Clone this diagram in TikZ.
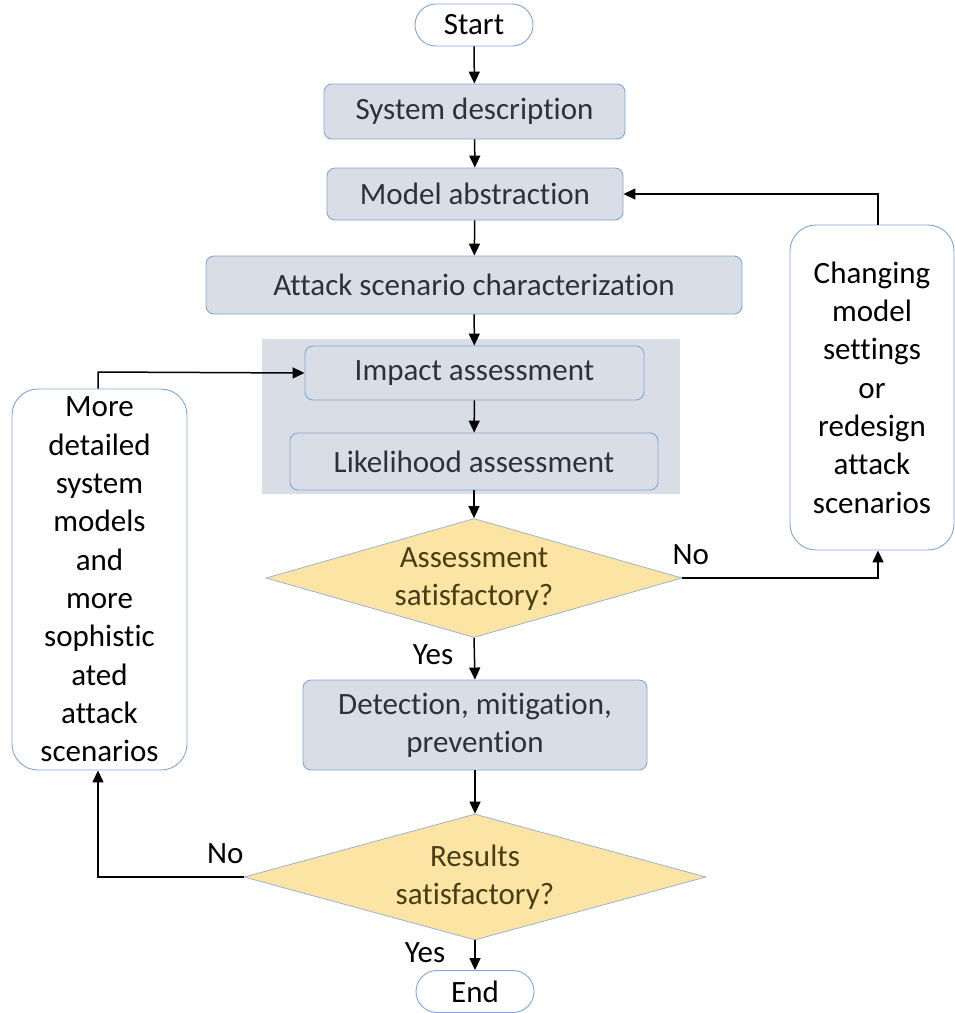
\documentclass[tikz,border=0pt]{standalone}
\usepackage{fontspec}
\setmainfont{Carlito}[Ligatures={NoCommon}]
\usetikzlibrary{shapes.geometric,arrows.meta}
\definecolor{boxfill}{HTML}{D9DEE6}
\definecolor{boxline}{HTML}{7FA7D6}
\definecolor{boxtext}{HTML}{2B323C}
\definecolor{dfill}{HTML}{FBE4A4}
\definecolor{dtext}{HTML}{4A3D12}
\definecolor{dline}{HTML}{9DB4CF}
\newcommand{\dtxt}[1]{\raisebox{-0.45em}{\smash{\makebox[0pt]{\begin{tabular}{@{}c@{}}#1\end{tabular}}}}}
\tikzset{
  procbox/.style={rectangle, rounded corners=8pt, draw=boxline, line width=0.9pt, fill=boxfill,
    text=boxtext, inner sep=0pt, font=\fontsize{31}{38}\selectfont, align=center},
  pill/.style={rectangle, rounded corners=21pt, draw=boxline, line width=0.9pt, fill=white,
    inner sep=0pt, minimum width=118pt, minimum height=42pt, font=\fontsize{31}{38}\selectfont},
  sidebox/.style={rectangle, rounded corners=26pt, draw=boxline, line width=0.9pt, fill=white,
    inner sep=0pt, font=\fontsize{31}{38.3}\selectfont, align=center},
  decision/.style={diamond, draw=dline, line width=0.8pt, fill=dfill, text=dtext, inner sep=0pt,
    font=\fontsize{31}{38}\selectfont},
  flow/.style={line width=1.5pt, -{Triangle[length=12pt,width=11pt]}},
  lbl/.style={font=\fontsize{31}{38}\selectfont, inner sep=0pt}
}
\begin{document}
\begin{tikzpicture}[x=1pt,y=-1pt]
\useasboundingbox (0,0) rectangle (955,1013);
\fill[boxfill] (262,339) rectangle (680,494);
\node[pill] (start) at (474,25) {Start};
\node[procbox, minimum width=301pt, minimum height=55pt] (sys) at (474.5,111.5) {System description};
\node[procbox, minimum width=296pt, minimum height=52pt] (model) at (475,194) {Model abstraction};
\node[procbox, minimum width=536pt, minimum height=58pt] (attack) at (474,285) {Attack scenario characterization};
\node[procbox, minimum width=339pt, minimum height=54pt] (impact) at (474.5,373) {Impact assessment};
\node[procbox, minimum width=368pt, minimum height=57pt] (like) at (474,461.5) {Likelihood assessment};
\node[decision, minimum width=416pt, minimum height=119pt] (d1) at (474,578) {\dtxt{Assessment\\[0pt]satisfactory?}};
\node[procbox, minimum width=344pt, minimum height=90pt] (detect) at (475,725) {Detection, mitigation,\\prevention};
\node[decision, minimum width=462pt, minimum height=126pt] (d2) at (475,877) {\dtxt{Results\\[0pt]satisfactory?}};
\node[pill] (end) at (475,991.5) {End};
\node[sidebox, minimum width=175pt, minimum height=381pt] (left) at (99.5,579.5)
  {More\\detailed\\system\\models\\and\\more\\sophistic\\ated\\attack\\scenarios};
\node[sidebox, minimum width=164pt, minimum height=325pt] (right) at (872,387.5)
  {Changing\\model\\settings\\or\\redesign\\attack\\scenarios};
\coordinate (rc) at (878,578);
\coordinate (rt) at (878,194);
\coordinate (lc) at (98,877);
\coordinate (lt) at (98,372);
\draw[flow] (start) -- (sys);
\draw[flow] (sys) -- (model);
\draw[flow] (model) -- (attack);
\draw[flow] (attack) -- (impact);
\draw[flow] (impact) -- (like);
\draw[flow] (like) -- (d1.north);
\draw[flow] (d1.south) -- (detect.north);
\draw[flow] (detect) -- (d2.north);
\draw[flow] (d2.south) -- (end.north);
\draw[flow] (d1.east) -- (rc) -- (right.south -| rc);
\draw[flow] (right.north -| rt) -- (rt) -- (model.east);
\draw[flow] (d2.west) -- (lc) -- (left.south -| lc);
\draw[flow] (left.north -| lt) -- (lt) -- (impact.west);
\node[lbl, anchor=south west] (no1) at ([xshift=-10pt,yshift=13pt]d1.east) {No};
\node[lbl, anchor=south east] (no2) at ([xshift=0pt,yshift=13pt]d2.west) {No};
\node[lbl] (yes1) at (433,655) {Yes};
\node[lbl] (yes2) at (425,953) {Yes};
\end{tikzpicture}
\end{document}
